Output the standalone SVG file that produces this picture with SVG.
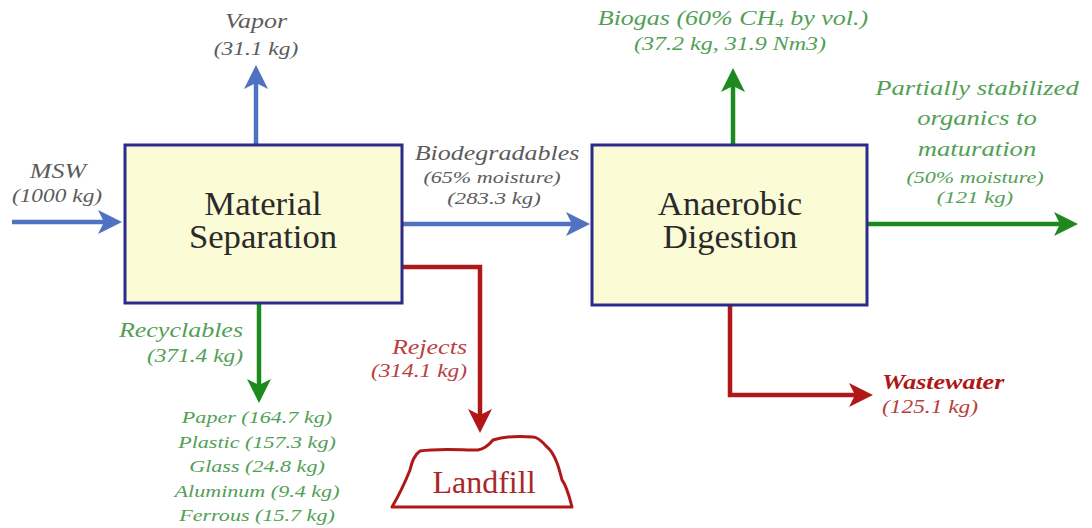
<svg xmlns="http://www.w3.org/2000/svg" width="1092" height="528" viewBox="0 0 1092 528">
<style>
.box{fill:#fbfbd6;stroke:#2b2b8c;stroke-width:3}
.ttl{font-family:"Liberation Serif","Times New Roman",serif;font-size:33px;fill:#2a2a2a;text-anchor:middle}
.lbl{font-family:"Liberation Serif","Times New Roman",serif;font-style:italic;font-size:20px}
.gray{fill:#5c5c5c}
.grn{fill:#52a056}
.red{fill:#b8403f}
.mid{text-anchor:middle}
.end{text-anchor:end}
.blue-l{fill:none;stroke:#4f72c2;stroke-width:4.5}
.green-l{fill:none;stroke:#1d8a1d;stroke-width:4.5}
.red-l{fill:none;stroke:#b01818;stroke-width:4.5}
</style>
<defs>
<marker id="ab" markerUnits="userSpaceOnUse" markerWidth="26" markerHeight="26" viewBox="0 0 26 26" refX="17" refY="13" orient="auto"><path d="M1,1 L25,13 L1,25 L7,13 z" fill="#4f72c2"/></marker>
<marker id="ag" markerUnits="userSpaceOnUse" markerWidth="26" markerHeight="26" viewBox="0 0 26 26" refX="17" refY="13" orient="auto"><path d="M1,1 L25,13 L1,25 L7,13 z" fill="#1d8a1d"/></marker>
<marker id="ar" markerUnits="userSpaceOnUse" markerWidth="26" markerHeight="26" viewBox="0 0 26 26" refX="17" refY="13" orient="auto"><path d="M1,1 L25,13 L1,25 L7,13 z" fill="#b01818"/></marker>
</defs>
<rect width="1092" height="528" fill="#ffffff"/>

<g id="connectors">
<path class="blue-l" d="M12,222 H114" marker-end="url(#ab)"/>
<path class="blue-l" d="M256,145 V73" marker-end="url(#ab)"/>
<path class="blue-l" d="M402,224 H582" marker-end="url(#ab)"/>
<path class="red-l" d="M402,267 H480 V425" marker-end="url(#ar)"/>
<path class="green-l" d="M259,303 V395" marker-end="url(#ag)"/>
<path class="green-l" d="M733,145 V76" marker-end="url(#ag)"/>
<path class="green-l" d="M867,224 H1070" marker-end="url(#ag)"/>
<path class="red-l" d="M730,305 V395 H865" marker-end="url(#ar)"/>
</g>

<g id="material-separation">
<rect class="box" x="125" y="145" width="277" height="158"/>
<text class="ttl" transform="translate(263 215) scale(1.05 1)">Material</text>
<text class="ttl" transform="translate(263 248) scale(1.05 1)">Separation</text>
</g>

<g id="anaerobic-digestion">
<rect class="box" x="592" y="145" width="275" height="160"/>
<text class="ttl" transform="translate(730 215) scale(1.05 1)">Anaerobic</text>
<text class="ttl" transform="translate(730 248) scale(1.05 1)">Digestion</text>
</g>

<g id="landfill">
<path d="M392,507 H572 C569,495 566,485 562,480 C560,472 559,468 557,463 C554,455 551,450 547,447 C541,440 537,437 533,437 C520,436 505,436 493,440 C488,446 484,449 478,450 C460,450 438,448 420,451 C414,455 412,462 410,470 C406,480 402,490 392,507 Z" fill="#ffffff" stroke="#b01818" stroke-width="3" stroke-linejoin="round"/>
<text x="484" y="493" font-family="Liberation Serif, Times New Roman, serif" font-size="32" fill="#a82828" text-anchor="middle">Landfill</text>
</g>

<g id="msw-label">
<text class="lbl gray mid" transform="translate(58 178) scale(1.3 1)">MSW</text>
<text class="lbl gray mid" style="font-size:18px" transform="translate(57 202) scale(1.3 1)">(1000 kg)</text>
</g>

<g id="vapor-label">
<text class="lbl gray mid" transform="translate(256 28) scale(1.3 1)">Vapor</text>
<text class="lbl gray mid" style="font-size:18px" transform="translate(256 55) scale(1.3 1)">(31.1 kg)</text>
</g>

<g id="biodegradables-label">
<text class="lbl gray mid" transform="translate(497 160) scale(1.3 1)">Biodegradables</text>
<text class="lbl gray mid" style="font-size:17px" transform="translate(492 183) scale(1.3 1)">(65% moisture)</text>
<text class="lbl gray mid" style="font-size:17.5px" transform="translate(494 204) scale(1.3 1)">(283.3 kg)</text>
</g>

<g id="rejects-label">
<text class="lbl red end" transform="translate(467 354) scale(1.3 1)">Rejects</text>
<text class="lbl red end" style="font-size:18px" transform="translate(467 377) scale(1.3 1)">(314.1 kg)</text>
</g>

<g id="recyclables-label">
<text class="lbl grn end" transform="translate(243 337) scale(1.3 1)">Recyclables</text>
<text class="lbl grn end" style="font-size:18px" transform="translate(243 362) scale(1.3 1)">(371.4 kg)</text>
</g>

<g id="recyclables-list">
<text class="lbl grn mid" style="font-size:17px" transform="translate(257 423) scale(1.3 1)">Paper (164.7 kg)</text>
<text class="lbl grn mid" style="font-size:17px" transform="translate(257 448) scale(1.3 1)">Plastic (157.3 kg)</text>
<text class="lbl grn mid" style="font-size:17px" transform="translate(257 472) scale(1.3 1)">Glass (24.8 kg)</text>
<text class="lbl grn mid" style="font-size:17px" transform="translate(257 497) scale(1.3 1)">Aluminum (9.4 kg)</text>
<text class="lbl grn mid" style="font-size:17px" transform="translate(257 521) scale(1.3 1)">Ferrous (15.7 kg)</text>
</g>

<g id="biogas-label">
<text class="lbl grn mid" transform="translate(733 25) scale(1.3 1)">Biogas (60% CH<tspan style="font-size:13px" dy="2">4</tspan><tspan dy="-2"> by vol.)</tspan></text>
<text class="lbl grn mid" style="font-size:18.5px" transform="translate(730 50) scale(1.3 1)">(37.2 kg, 31.9 Nm3)</text>
</g>

<g id="organics-label">
<text class="lbl grn mid" style="font-size:20.5px" transform="translate(977 95) scale(1.3 1)">Partially stabilized</text>
<text class="lbl grn mid" style="font-size:20.5px" transform="translate(977 125) scale(1.3 1)">organics to</text>
<text class="lbl grn mid" style="font-size:20.5px" transform="translate(977 156) scale(1.3 1)">maturation</text>
<text class="lbl grn mid" style="font-size:17px" transform="translate(975 183) scale(1.3 1)">(50% moisture)</text>
<text class="lbl grn mid" style="font-size:17.5px" transform="translate(975 203) scale(1.3 1)">(121 kg)</text>
</g>

<g id="wastewater-label">
<text class="lbl" style="fill:#b01818;font-weight:bold" transform="translate(882 389) scale(1.3 1)">Wastewater</text>
<text class="lbl red" style="font-size:18px" transform="translate(882 413) scale(1.3 1)">(125.1 kg)</text>
</g>
</svg>
